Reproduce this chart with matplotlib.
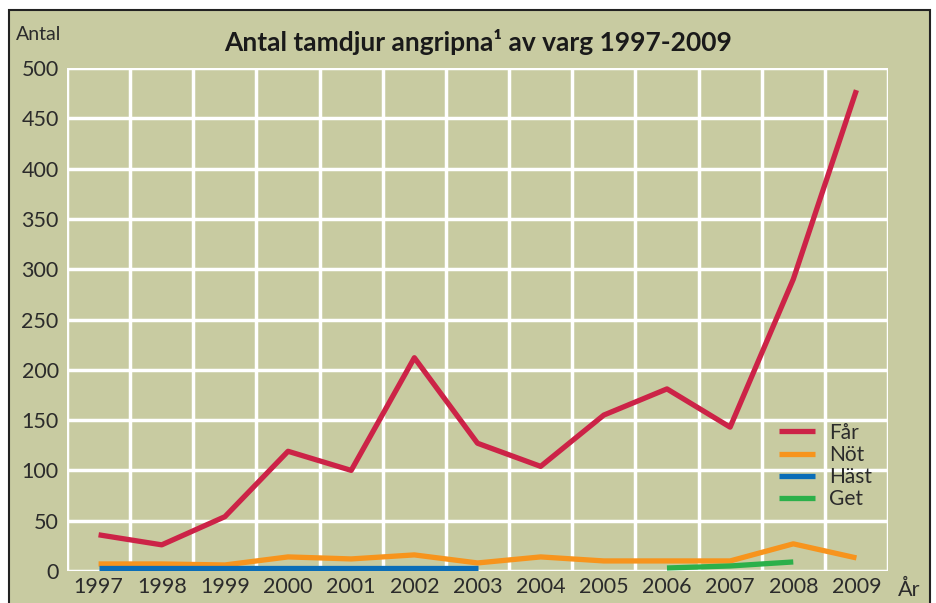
import matplotlib.pyplot as plt
from matplotlib.patches import Rectangle
import numpy as np

# data
years = [1997, 1998, 1999, 2000, 2001, 2002, 2003, 2004, 2005, 2006, 2007, 2008, 2009]
far = [36, 26, 54, 119, 100, 212, 127, 104, 155, 181, 143, 290, 478]
not_ = [7, 7, 6, 14, 12, 16, 8, 14, 10, 10, 10, 27, 13]
hast_years = [1997, 1998, 1999, 2000, 2001, 2002, 2003]
hast = [3, 3, 3, 3, 3, 3, 3]
get_years = [2006, 2007, 2008]
get = [3, 5, 9]

bg = "#c8cba1"
txt = "#2b2b2b"
plt.rcParams['font.family'] = ['Lato', 'DejaVu Sans']

fig = plt.figure(figsize=(9.36, 6.03), dpi=100)
fig.patch.set_facecolor("white")

# olive panel with dark frame
W, H = 936.0, 603.0
panel = Rectangle((9 / W, -0.01), (930 - 9) / W, (603 - 10) / H + 0.01, transform=fig.transFigure,
                  facecolor=bg, edgecolor="#222222", linewidth=1.5, zorder=-10)
fig.add_artist(panel)

ax = fig.add_axes([67 / W, 32 / H, (888 - 67) / W, (571 - 68) / H])
ax.set_facecolor(bg)

x = np.arange(len(years))
idx = {y: i for i, y in enumerate(years)}

ax.plot(x, far, color="#cc2347", lw=3.8, solid_capstyle="butt", label="Får", zorder=3)
ax.plot(x, not_, color="#f7941d", lw=3.8, solid_capstyle="butt", label="Nöt", zorder=3)
ax.plot([idx[y] for y in hast_years], hast, color="#0b6db7", lw=3.8,
        solid_capstyle="butt", label="Häst", zorder=3)
ax.plot([idx[y] for y in get_years], get, color="#2cb04a", lw=3.8,
        solid_capstyle="butt", label="Get", zorder=3)

ax.set_xlim(-0.5, len(years) - 0.5)
ax.set_ylim(0, 500)

# white grid: vertical lines between years, horizontal every 50
for b in np.arange(-0.5, len(years), 1.0):
    ax.axvline(b, color="white", lw=2.5, zorder=1)
for v in range(0, 501, 50):
    ax.axhline(v, color="white", lw=2.5, zorder=1)
for s in ax.spines.values():
    s.set_visible(False)

ax.set_xticks(x)
ax.set_xticklabels([str(y) for y in years])
ax.set_yticks(range(0, 501, 50))
ax.tick_params(length=0, labelsize=15.5, colors=txt, pad=6)
ax.tick_params(axis="x", pad=4)

fig.text(16 / W, 1 - 35 / H, "Antal", fontsize=14, color=txt, va="center", ha="left")
fig.text(920 / W, 1 - 590 / H, "År", fontsize=15.5, color=txt, va="center", ha="right")
fig.text(478 / W, 1 - 42 / H, "Antal tamdjur angripna¹ av varg 1997-2009",
         fontsize=19, fontweight="bold", color="#1a1a1a", ha="center", va="center")

leg = ax.legend(loc="upper left", bbox_to_anchor=(0.844, 0.332), frameon=False,
                fontsize=15, handlelength=1.75, labelspacing=0.1, handletextpad=0.65,
                labelcolor=txt)

fig.savefig("out.png", dpi=100, facecolor="white")
